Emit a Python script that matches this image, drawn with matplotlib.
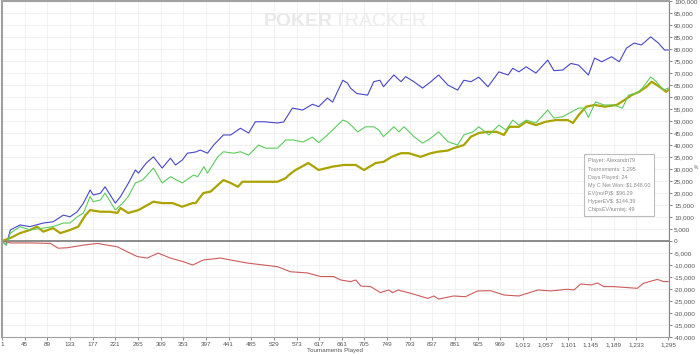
#!/usr/bin/env python3
'''
Tournament results graph (PokerTracker style)
'''
import matplotlib
matplotlib.use('Agg')
import matplotlib.pyplot as plt
from matplotlib.ticker import FuncFormatter

# blue line
blue_t = [1, 9, 17, 36, 55, 81, 100, 120, 133, 147, 159, 172, 178, 192, 201,
          221, 231, 246, 260, 266, 281, 295, 312, 328, 338, 351, 361, 377,
          386, 400, 412, 431, 445, 464, 480, 493, 509, 536, 548, 565, 585,
          604, 616, 633, 643, 663, 672, 678, 690, 711, 723, 735, 742, 762,
          776, 785, 801, 818, 834, 849, 867, 886, 898, 912, 927, 945, 966,
          984, 993, 1005, 1019, 1038, 1061, 1073, 1090, 1106, 1121, 1140,
          1152, 1166, 1185, 1200, 1214, 1229, 1243, 1261, 1276, 1288, 1295]
blue_v = [0, -1700, 4600, 6700, 6000, 7500, 8000, 10800, 10100, 12200, 15800,
          21250, 19200, 19900, 22600, 15800, 18500, 24000, 29600, 28300,
          32500, 35100, 30400, 34500, 31700, 33750, 36600, 37100, 37900,
          36600, 40000, 44200, 44200, 47000, 45000, 49700, 49700, 49200,
          49600, 55400, 54600, 57000, 56000, 59600, 57900, 67000, 65800,
          63700, 61500, 60800, 66400, 67000, 64300, 69200, 66400, 68500,
          66400, 63750, 66400, 69200, 65000, 62900, 67000, 66400, 68300,
          64300, 70500, 69200, 72000, 70500, 72600, 70000, 75400, 71000,
          71250, 74000, 73300, 69200, 76250, 74700, 76800, 74700, 80400,
          82500, 81700, 85100, 82500, 79600, 79600]

# green line
green_t = [1, 9, 17, 36, 55, 81, 100, 120, 133, 147, 159, 172, 178, 192, 201,
           221, 235, 246, 260, 274, 295, 312, 328, 351, 373, 381, 393, 400,
           420, 431, 451, 464, 480, 499, 513, 536, 552, 567, 585, 604, 616,
           633, 643, 663, 672, 692, 707, 723, 733, 742, 762, 772, 782, 801,
           818, 834, 849, 867, 886, 898, 916, 927, 947, 966, 980, 993, 1005,
           1019, 1038, 1061, 1073, 1090, 1121, 1131, 1140, 1154, 1170, 1189,
           1206, 1218, 1235, 1245, 1261, 1272, 1286, 1295]
green_v = [0, -1700, 3300, 6000, 4600, 5400, 6000, 7500, 7500, 10100, 11700,
           18500, 16400, 17100, 20000, 12900, 15800, 18500, 24200, 25400,
           30400, 24200, 26800, 24200, 27500, 26800, 31000, 28300, 35100,
           37200, 36600, 37200, 35800, 40000, 38700, 38700, 42100, 42100,
           41250, 43300, 41000, 44200, 46250, 50400, 49700, 45500, 47600,
           47600, 46250, 43500, 47600, 45500, 47600, 43500, 40800, 42900,
           45500, 41400, 40000, 44200, 45500, 47600, 44200, 48300, 46250,
           50400, 48300, 50400, 49200, 54600, 51250, 51800, 55400, 55400,
           51500, 58000, 56700, 56700, 55400, 60800, 61700, 63750, 68400,
           66400, 62900, 63750]

# olive line
olive_t = [1, 17, 36, 55, 69, 81, 100, 114, 133, 149, 163, 172, 192, 211, 225,
           231, 246, 266, 295, 312, 332, 351, 371, 377, 392, 406, 420, 431,
           445, 459, 468, 490, 509, 536, 552, 558, 571, 596, 616, 643, 665,
           688, 704, 727, 742, 758, 776, 791, 814, 834, 847, 867, 878, 898,
           912, 927, 943, 962, 976, 986, 1005, 1019, 1038, 1057, 1077, 1100,
           1110, 1121, 1136, 1152, 1172, 1195, 1210, 1224, 1239, 1253, 1263,
           1278, 1291, 1295]
olive_v = [0, 1250, 3300, 4600, 6000, 3900, 5400, 3300, 4600, 6000, 10800,
           12900, 12200, 12200, 11700, 13750, 11700, 12900, 16400, 15800,
           15800, 14300, 15800, 15800, 20000, 20600, 23300, 25400, 24200,
           22600, 24700, 24700, 24700, 24700, 26200, 27500, 29600, 32500,
           29600, 31000, 31700, 31700, 29600, 32500, 33000, 35100, 36600,
           36600, 35100, 36600, 37200, 37700, 38700, 40000, 43500, 45000,
           45500, 45500, 44200, 47600, 47600, 49700, 48300, 49700, 50400,
           50400, 49200, 52500, 56000, 56700, 56000, 56700, 58750, 60800,
           62200, 64300, 66400, 64300, 62200, 62900]

# red line
red_t = [1, 17, 56, 95, 110, 128, 159, 186, 205, 225, 244, 264, 283, 304, 328,
         353, 371, 392, 425, 445, 478, 509, 536, 561, 594, 620, 645, 659, 678,
         688, 698, 717, 736, 752, 760, 770, 795, 828, 840, 849, 878, 901, 925,
         950, 976, 1005, 1042, 1067, 1100, 1112, 1125, 1145, 1158, 1170, 1189,
         1208, 1235, 1247, 1274, 1286, 1295]
red_v = [0, -800, -800, -1000, -3000, -2800, -1700, -1000, -1700, -2400,
         -4500, -6500, -7100, -5000, -7100, -8600, -10000, -7900, -7100,
         -7900, -9200, -10000, -10700, -12800, -13300, -14800, -14800, -16250,
         -16900, -16250, -18750, -19000, -21500, -20400, -21500, -20400,
         -21800, -23900, -22900, -24200, -22900, -23200, -20800, -20700,
         -22500, -22900, -20400, -20800, -20100, -20400, -17900, -18300,
         -17500, -19000, -19000, -19300, -19700, -17600, -16000, -16900,
         -16900]

x_ticks = list(range(1, 1234, 44)) + [1295]
y_ticks = list(range(-40000, 100001, 5000))

info_lines = ['Player: Alexandri79', 'Tournaments: 1,295', 'Days Played: 24',
              r'My C Net Won: \$1,848.00', r'EV(noIP)\$: \$96.29',
              r'HyperEV\$: \$144.39', 'ChipsEV/turniej: 49']


def main():
    plt.rcParams['font.family'] = ['Liberation Sans', 'DejaVu Sans']
    fig = plt.figure(figsize=(7.0, 3.54), dpi=100)
    ax = fig.add_axes([0.003, 0.048, 0.953, 0.949])

    ax.plot(red_t, red_v, color='#d05a5a', lw=0.8)
    ax.plot(blue_t, blue_v, color='#4646c8', lw=0.8)
    ax.plot(olive_t, olive_v, color='#aaa300', lw=1.6)
    ax.plot(green_t, green_v, color='#5ccc5c', lw=0.8)
    ax.axhline(0, color='#6e6e6e', lw=1.1, zorder=1)

    ax.set_xlim(1, 1297)
    ax.set_ylim(-40000, 100000)
    ax.set_xticks(x_ticks)
    ax.set_yticks(y_ticks)
    ax.xaxis.set_major_formatter(FuncFormatter(lambda v, p: f'{int(v):,}'))
    ax.yaxis.set_major_formatter(FuncFormatter(lambda v, p: f'{int(v):,}'))
    ax.yaxis.tick_right()
    ax.tick_params(axis='both', labelsize=4.6, colors='#777777',
                   labelcolor='#555555', length=2.5, width=0.6, pad=1)
    ax.grid(True, color='#f1f1f1', lw=0.7)
    ax.set_axisbelow(True)

    for side in ['left', 'top', 'bottom']:
        ax.spines[side].set_color('#a0a0a0')
    ax.spines['right'].set_color('#888888')
    ax.spines['top'].set_linewidth(1.5)
    ax.spines['left'].set_linewidth(1.5)

    fig.text(0.478, 0.003, 'Tournaments Played', fontsize=4.4,
             color='#555555', ha='center', va='bottom')
    fig.text(0.998, 0.522, '%', fontsize=3.5, color='#666666', ha='right')

    # watermark
    fig.text(0.475, 0.94, 'POKER', fontsize=14, fontweight='bold',
             color='#e9e9e9', ha='right', va='center')
    fig.text(0.477, 0.94, 'TRACKER', fontsize=14, color='#ececec',
             ha='left', va='center')

    # info box
    ax.text(1139, 34500, '\n'.join(info_lines), fontsize=3.9,
            color='#8a8a8a', va='top', ha='left', linespacing=1.8,
            bbox=dict(boxstyle='square,pad=0.7', fc='white', ec='#bdbdbd',
                      lw=0.8))

    plt.savefig('out.png', dpi=100)


main()
